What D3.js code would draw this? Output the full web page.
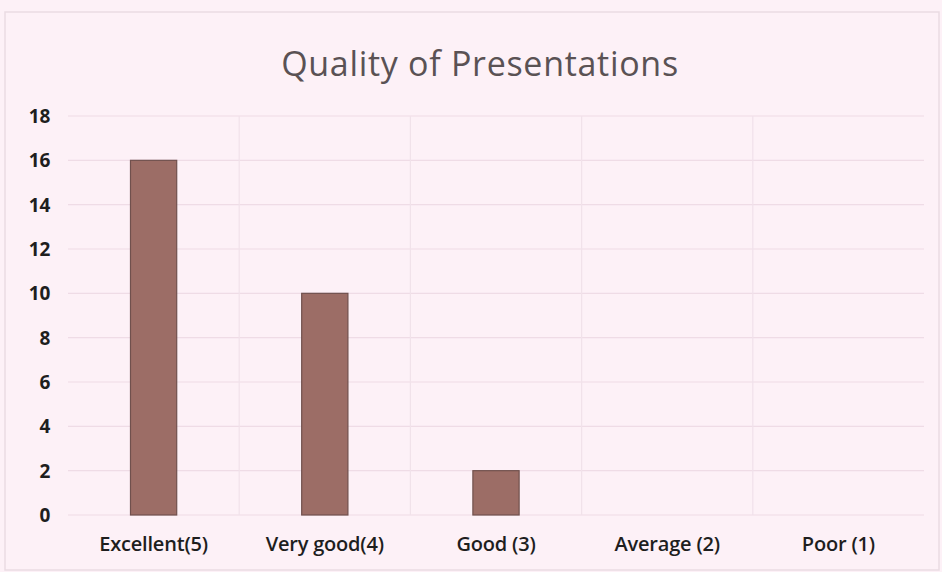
<!DOCTYPE html>
<html lang="en">
<head>
<meta charset="utf-8">
<script src="https://d3js.org/d3.v7.min.js"></script>
<style>
body { margin: 0; background: #fdf1f7; }
.ytick text { font: bold 19px "Open Sans", sans-serif; fill: #1e1e1e; letter-spacing: -0.3px; }
.xtick text { font: 600 20px "Open Sans", sans-serif; fill: #1e1e1e; letter-spacing: -0.2px; }
</style>
</head>
<body>
<div id="chart"></div>
<script>
// chart data
var categories = ["Excellent(5)", "Very good(4)", "Good (3)", "Average (2)", "Poor (1)"];
var counts = [16, 10, 2, 0, 0];
var yTicks = [0, 2, 4, 6, 8, 10, 12, 14, 16, 18];

var width = 942, height = 572;
var margin = {top: 116, right: 18, bottom: 57, left: 68};

var svg = d3.select("#chart").append("svg")
  .attr("width", width)
  .attr("height", height);

// outer frame
svg.append("rect")
  .attr("x", 5).attr("y", 12)
  .attr("width", width - 8).attr("height", height - 14)
  .attr("fill", "#fdf1f7")
  .attr("stroke", "#eadbe3")
  .attr("stroke-width", 1.5);

var x = d3.scaleBand()
  .domain(categories)
  .range([margin.left, width - margin.right])
  .paddingInner(0.73)
  .paddingOuter(0.365);

var band = d3.scaleBand()
  .domain(categories)
  .range([margin.left, width - margin.right]);

var y = d3.scaleLinear()
  .domain([0, 18])
  .range([height - margin.bottom, margin.top]);

// horizontal gridlines
svg.append("g").selectAll("line")
  .data(yTicks)
  .enter().append("line")
  .attr("x1", margin.left).attr("x2", width - margin.right)
  .attr("y1", function(d) { return y(d); })
  .attr("y2", function(d) { return y(d); })
  .attr("stroke", "#efdce6")
  .attr("stroke-width", 1.2);

// faint vertical dividers
svg.append("g").selectAll("line")
  .data(categories.slice(1))
  .enter().append("line")
  .attr("x1", function(d) { return band(d); })
  .attr("x2", function(d) { return band(d); })
  .attr("y1", y(18)).attr("y2", y(0))
  .attr("stroke", "#f1e2ea")
  .attr("stroke-width", 1.2);

// bars
svg.append("g").selectAll("rect")
  .data(counts)
  .enter().append("rect")
  .attr("x", function(d, i) { return x(categories[i]); })
  .attr("width", x.bandwidth())
  .attr("y", function(d) { return y(d); })
  .attr("height", function(d) { return y(0) - y(d); })
  .attr("fill", function(d) { return d > 0 ? "#9c6d66" : "none"; })
  .attr("stroke", function(d) { return d > 0 ? "#70504d" : "none"; })
  .attr("stroke-width", 1.2);

// y axis
var yAxis = svg.append("g")
  .attr("class", "ytick")
  .attr("transform", "translate(" + (margin.left - 18) + ",0)")
  .call(d3.axisLeft(y).tickValues(yTicks).tickSize(0).tickPadding(0));
yAxis.select(".domain").remove();
yAxis.selectAll("text").attr("dy", "0.35em");

// x axis
var xAxis = svg.append("g")
  .attr("class", "xtick")
  .attr("transform", "translate(0," + (height - margin.bottom) + ")")
  .call(d3.axisBottom(band).tickSize(0).tickPadding(22));
xAxis.select(".domain").remove();

// title
svg.append("text")
  .attr("x", 480)
  .attr("y", 76)
  .attr("text-anchor", "middle")
  .style("font-family", "'Open Sans', sans-serif")
  .style("font-size", "34px")
  .style("letter-spacing", "0.7px")
  .style("fill", "#5a5254")
  .text("Quality of Presentations");
</script>
</body>
</html>
